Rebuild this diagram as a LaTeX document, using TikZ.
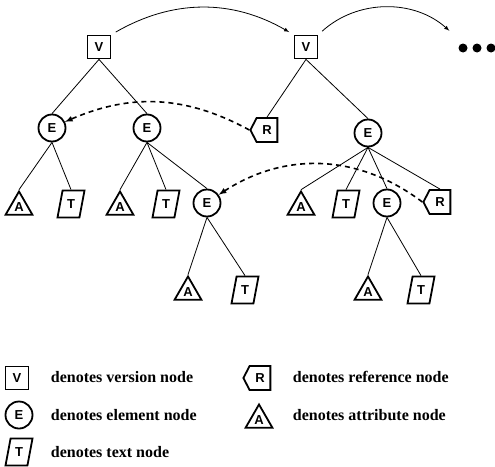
\documentclass[tikz,border=0pt]{standalone}
\usepackage{fontspec}
\setmainfont{Liberation Serif}
\setsansfont{Liberation Sans}
\usetikzlibrary{shapes.geometric,shapes.symbols}

\begin{document}
\begin{tikzpicture}[x=1pt,y=-1pt,
	every node/.style={font=\sffamily\bfseries\fontsize{13}{13}\selectfont, line width=1.8pt, inner sep=0pt},
	vnode/.style={draw, rectangle, minimum size=23pt},
	enode/.style={draw, circle, minimum size=27pt},
	rnode/.style={draw, signal, signal to=west, signal pointer angle=125, minimum width=27pt, minimum height=24pt},
	anode/.style={draw, regular polygon, regular polygon sides=3, minimum size=31pt},
	tnode/.style={draw, trapezium, trapezium left angle=75, trapezium right angle=105, trapezium stretches=true, minimum height=27pt, minimum width=27pt},
	legtext/.style={font=\rmfamily\bfseries\fontsize{16}{16}\selectfont, anchor=west},
	treeline/.style={line width=0.8pt},
	verarrow/.style={line width=0.8pt, -latex, shorten <=5pt, shorten >=5pt},
	refarrow/.style={line width=1.6pt, dash pattern=on 5pt off 4pt, -latex}]
	
	\useasboundingbox (0,0) rectangle (495,466);
	
	% versions
	\node[vnode] (v1) at (99,47) {V};
	\node[vnode] (v2) at (306,47) {V};
	\node[minimum width=46pt, minimum height=26pt] (more) at (477,48) {};
	\foreach \x in {-14,0,14} \fill ([xshift=\x pt]more.center) circle (4.5);
	
	% first version
	\node[enode] (e1) at (52,128) {E};
	\node[enode] (e2) at (147,128) {E};
	\node[anode] (a1) at (19,207) {A};
	\node[tnode] (t1) at (71,204) {T};
	\node[anode] (a2) at (120,207) {A};
	\node[tnode] (t2) at (166,204) {T};
	\node[enode] (e4) at (207,203) {E};
	\node[anode] (a4) at (188,292) {A};
	\node[tnode] (t4) at (245,290) {T};
	
	% second version
	\node[rnode] (r1) at (267,130) {R};
	\node[enode] (e3) at (368,133) {E};
	\node[anode] (a3) at (301,207) {A};
	\node[tnode] (t3) at (346,204) {T};
	\node[enode] (e5) at (387,203) {E};
	\node[rnode] (r2) at (440,202) {R};
	\node[anode] (a5) at (368,292) {A};
	\node[tnode] (t5) at (421,290) {T};
	
	\foreach \a/\b in {v1/e1, v1/e2, e1/a1, e1/t1, e2/a2, e2/t2, e2/e4, e4/a4, e4/t4,
		v2/r1, v2/e3, e3/a3, e3/t3, e3/e5, e3/r2, e5/a5, e5/t5}
		\draw[treeline] (\a.south) -- (\b.north);
	
	\draw[verarrow] (v1.north east) to[bend left=30] (v2.north west);
	\draw[verarrow] (v2.north east) to[bend left=42] (more.north west);
	\draw[refarrow] (r1.west) to[bend right=26] (e1);
	\draw[refarrow] (r2.west) to[bend right=35] (e4);
	
	% legend
	\node[vnode] (lv) at (17,378) {V};
	\node[legtext] (lvt) at (50,377) {denotes version node};
	\node[enode] (le) at (19,415) {E};
	\node[legtext] (let) at (50,415) {denotes element node};
	\node[tnode] (lt) at (19,452) {T};
	\node[legtext] (ltt) at (50,452) {denotes text node};
	\node[rnode] (lr) at (260,378) {R};
	\node[legtext] (lrt) at (292,377) {denotes reference node};
	\node[anode] (la) at (259,420) {A};
	\node[legtext] (lat) at (292,415) {denotes attribute node};
	
\end{tikzpicture}
\end{document}
